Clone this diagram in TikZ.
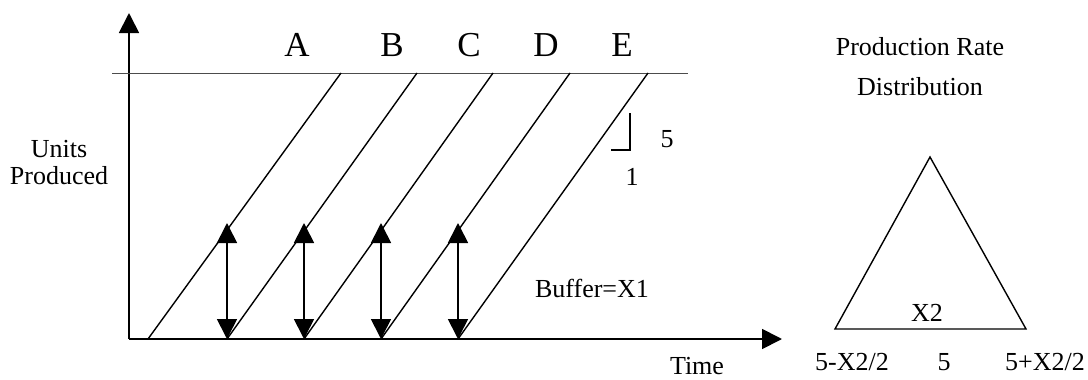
\documentclass[tikz,border=0pt]{standalone}
\usepackage{fontspec}
\setmainfont{Liberation Serif}
\usetikzlibrary{arrows.meta}
\begin{document}
\begin{tikzpicture}[x=1pt,y=-1pt,
  ax/.style={line width=1.8pt,-{Triangle[width=20pt,length=20pt]}},
  ln/.style={line width=1.4pt},
  dbl/.style={line width=1.7pt,{Triangle[width=20pt,length=20pt]}-{Triangle[width=20pt,length=20pt]}},
  lbl/.style={font=\fontsize{26}{27}\selectfont, inner sep=0pt, align=center},
  big/.style={font=\fontsize{35}{40}\selectfont, inner sep=0pt}]
\useasboundingbox (0,0) rectangle (1088,380);
\coordinate (O) at (129,339);
\coordinate (Ytip) at (129,13);
\coordinate (Xtip) at (782,339);
\draw[ax] (O) -- (Ytip);
\draw[ax] (O) -- (Xtip);
\coordinate (TL) at (112,73);
\coordinate (TR) at (688,73);
\draw[line width=1pt, black!70] (TL) -- (TR);
% production lines
\foreach \n/\b/\t/\lx in {A/148/341/297, B/227/417/392, C/304/493/469, D/381/570/546, E/458/648/622}{
  \coordinate (b\n) at (\b,339);
  \coordinate (t\n) at (\t,73);
  \draw[ln] (b\n) -- (t\n);
  \node[big] (l\n) at (\lx,45) {\n};
}
% buffer arrows
\foreach \n/\x in {1/227, 2/304, 3/381, 4/458}{
  \coordinate (ab\n) at (\x,339);
  \coordinate (at\n) at (\x,223);
  \draw[dbl] (ab\n) -- (at\n);
}
\node[lbl] (units) at (59,163) {Units\\Produced};
\node[lbl] (buffer) at (592,288) {Buffer=X1};
\node[lbl] (time) at (697,366) {Time};
% slope mark
\coordinate (s1) at (630,113);
\coordinate (s2) at (630,150);
\coordinate (s3) at (611,150);
\draw[line width=1.4pt] (s1) -- (s2) -- (s3);
\node[lbl] (five) at (667,139) {5};
\node[lbl] (one) at (632,177) {1};
% distribution
\node[lbl, font=\fontsize{26}{40}\selectfont] (prd) at (920,67) {Production Rate\\Distribution};
\coordinate (apex) at (930,157);
\coordinate (bl) at (835,329);
\coordinate (br) at (1026,329);
\draw[ln] (apex) -- (bl) -- (br) -- cycle;
\node[lbl] (x2) at (927,313) {X2};
\node[lbl] (lo) at (852,362) {5-X2/2};
\node[lbl] (mid) at (944,362) {5};
\node[lbl] (hi) at (1045,362) {5+X2/2};
\end{tikzpicture}
\end{document}
